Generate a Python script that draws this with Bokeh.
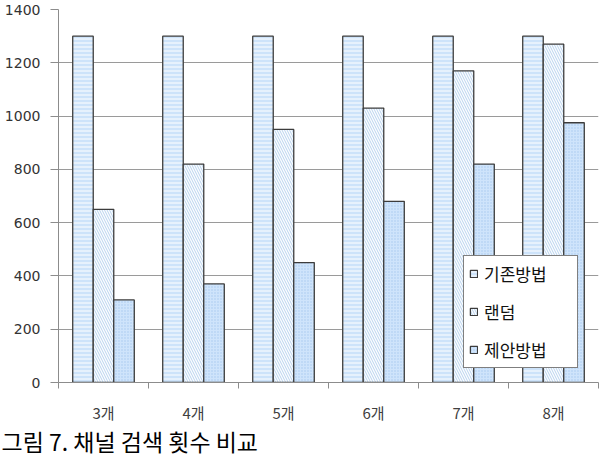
from bokeh.plotting import figure
from bokeh.models import (ColumnDataSource, FixedTicker, Legend, LegendItem, Title,
                          Range1d)
from bokeh.transform import dodge
from bokeh.embed import file_html
from bokeh.resources import INLINE

categories = ["3개", "4개", "5개", "6개", "7개", "8개"]
existing = [1300, 1300, 1300, 1300, 1300, 1300]
random_vals = [650, 820, 950, 1030, 1170, 1270]
proposed = [310, 370, 450, 680, 820, 975]
series_names = ["기존방법", "랜덤", "제안방법"]
y_ticks = [0, 200, 400, 600, 800, 1000, 1200, 1400]
caption = "그림 7. 채널 검색 횟수 비교"

xc = [i + 0.5 for i in range(len(categories))]
src = ColumnDataSource(dict(x=xc, a=existing, b=random_vals, c=proposed))

FONT = "Noto Sans CJK KR"

p = figure(width=605, height=457, output_backend="svg", toolbar_location=None,
           x_range=Range1d(0, len(categories)), y_range=Range1d(0, 1400),
           min_border_left=58, min_border_right=7, min_border_top=9,
           min_border_bottom=75, outline_line_color=None, background_fill_color="white")

bw = 0.228
common = dict(line_color="#3c3c3c", line_width=1.3, hatch_weight=1.0)
r1 = p.vbar(x=dodge("x", -bw, range=p.x_range), top="a", width=bw, source=src,
            fill_color="#cde3fa", hatch_pattern="horizontal_line", hatch_color="white",
            hatch_scale=4, **common)
r2 = p.vbar(x=dodge("x", 0, range=p.x_range), top="b", width=bw, source=src,
            fill_color="#fbfdff", hatch_pattern="left_diagonal_line", hatch_color="#b9d3ee",
            hatch_scale=5, **common)
r3 = p.vbar(x=dodge("x", bw, range=p.x_range), top="c", width=bw, source=src,
            fill_color="#cfe4fb", hatch_pattern="dot", hatch_color="#a6c8ee",
            hatch_scale=3, **common)

# axes
p.yaxis.ticker = FixedTicker(ticks=y_ticks)
p.yaxis.axis_line_color = "#8c8c8c"
p.yaxis.major_tick_line_color = "#8c8c8c"
p.yaxis.major_tick_out = 8
p.yaxis.major_tick_in = 0
p.yaxis.minor_tick_line_color = None
p.yaxis.major_label_text_font = "DejaVu Sans"
p.yaxis.major_label_text_font_size = "14px"
p.yaxis.major_label_text_color = "#333333"
p.yaxis.major_label_standoff = 10

p.xaxis.ticker = FixedTicker(ticks=xc, minor_ticks=list(range(len(categories) + 1)))
p.xaxis.major_label_overrides = {x: c for x, c in zip(xc, categories)}
p.xaxis.axis_line_color = "#8c8c8c"
p.xaxis.major_tick_line_color = None
p.xaxis.minor_tick_line_color = "#8c8c8c"
p.xaxis.minor_tick_out = 6
p.xaxis.minor_tick_in = 0
p.xaxis.major_label_text_font = FONT
p.xaxis.major_label_text_font_size = "15px"
p.xaxis.major_label_text_color = "#404040"
p.xaxis.major_label_standoff = 13

p.xgrid.grid_line_color = None
p.ygrid.ticker = FixedTicker(ticks=y_ticks)
p.ygrid.grid_line_color = "#9a9a9a"
p.ygrid.grid_line_width = 1

legend = Legend(items=[LegendItem(label=series_names[0], renderers=[r1]),
                       LegendItem(label=series_names[1], renderers=[r2]),
                       LegendItem(label=series_names[2], renderers=[r3])],
                location=(405, 14), orientation="vertical",
                border_line_color="black", border_line_width=1,
                background_fill_color="white", background_fill_alpha=1,
                label_text_font=FONT, label_text_font_size="17px",
                label_text_color="#111111",
                glyph_width=9, glyph_height=9, label_height=22, spacing=13,
                padding=5, margin=0, label_standoff=6, label_width=88)
p.add_layout(legend, "center")

p.add_layout(Title(text=caption, align="left", offset=-57, standoff=-8,
                   vertical_align="bottom",
                   text_font=FONT, text_font_size="23px", text_font_style="normal",
                   text_color="black"), "below")

open("out.html", "w").write(file_html(p, INLINE))
